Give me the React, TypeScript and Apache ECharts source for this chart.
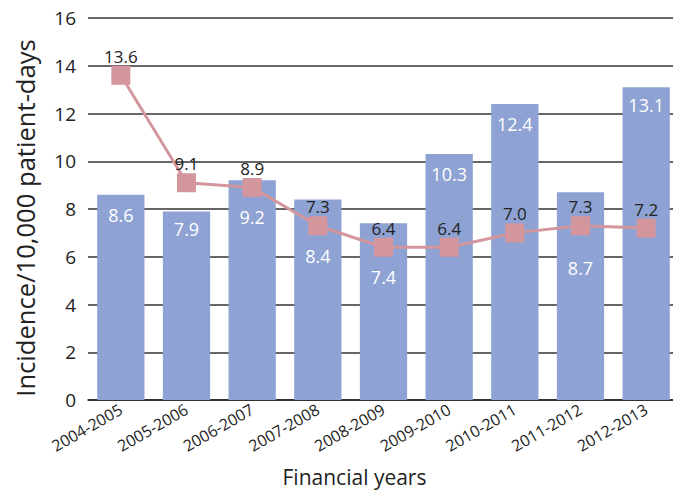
import React, { useEffect, useRef } from "react";
import * as echarts from "echarts";

const categories = ["2004-2005", "2005-2006", "2006-2007", "2007-2008", "2008-2009", "2009-2010", "2010-2011", "2011-2012", "2012-2013"];
const barValues = [8.6, 7.9, 9.2, 8.4, 7.4, 10.3, 12.4, 8.7, 13.1];
const lineValues = [13.6, 9.1, 8.9, 7.3, 6.4, 6.4, 7.0, 7.3, 7.2];
const yTicks = { min: 0, max: 16, interval: 2 };
// label distances from bar top (style only)
const barLabelDistances = [11, 9, 28, 48, 45, 11, 11, 67, 9];

const FONT = "'Open Sans', 'Noto Sans', sans-serif";

export default function App() {
  const ref = useRef<HTMLDivElement>(null);
  useEffect(() => {
    if (!ref.current) return;
    const chart = echarts.init(ref.current, undefined, { renderer: "svg" });
    chart.setOption({
      animation: false,
      textStyle: { fontFamily: FONT },
      grid: { left: 88, right: -6, top: 18, bottom: 93, containLabel: false, outerBoundsMode: "none" },
      xAxis: {
        type: "category",
        data: categories,
        name: "Financial years",
        nameLocation: "middle",
        nameGap: 66,
        nameTextStyle: { fontSize: 21, color: "#222", fontFamily: FONT, padding: [0, 58, 0, 0] },
        axisLine: { show: true, lineStyle: { color: "#222", width: 1.5 } },
        axisTick: { show: false },
        axisLabel: { rotate: 30, fontSize: 16, color: "#222", margin: 8, interval: 0, fontFamily: FONT },
      },
      yAxis: {
        type: "value",
        min: yTicks.min,
        max: yTicks.max,
        interval: yTicks.interval,
        name: "Incidence/10,000 patient-days",
        nameLocation: "middle",
        nameGap: 50,
        nameTextStyle: { fontSize: 25.6, color: "#222", fontFamily: FONT, padding: [0, 18, 0, 0] },
        axisLine: { show: false },
        axisTick: { show: false },
        axisLabel: { fontSize: 19, color: "#222", margin: 12, fontFamily: FONT },
        splitLine: { lineStyle: { color: "#333", width: 1.5 } },
      },
      series: [
        {
          type: "bar",
          data: barValues.map((v, i) => ({
            value: v,
            label: { distance: barLabelDistances[i] },
          })),
          barWidth: "72%",
          itemStyle: { color: "#8ea2d3" },
          label: {
            show: true,
            position: "insideTop",
            color: "#fff",
            fontSize: 18,
            fontFamily: FONT,
            formatter: (p: any) => Number(p.value).toFixed(1),
          },
          z: 1,
        },
        {
          type: "line",
          data: lineValues,
          symbol: "rect",
          symbolSize: 19,
          itemStyle: { color: "#d4969d" },
          lineStyle: { color: "#d4969d", width: 3 },
          label: {
            show: true,
            position: "top",
            distance: 1,
            color: "#222",
            fontSize: 17,
            fontFamily: FONT,
            formatter: (p: any) => Number(p.value).toFixed(1),
          },
          z: 3,
        },
      ],
    });
    return () => chart.dispose();
  }, []);
  return <div ref={ref} style={{ width: 673, height: 493, position: "absolute", left: 0, top: 0 }} />;
}
